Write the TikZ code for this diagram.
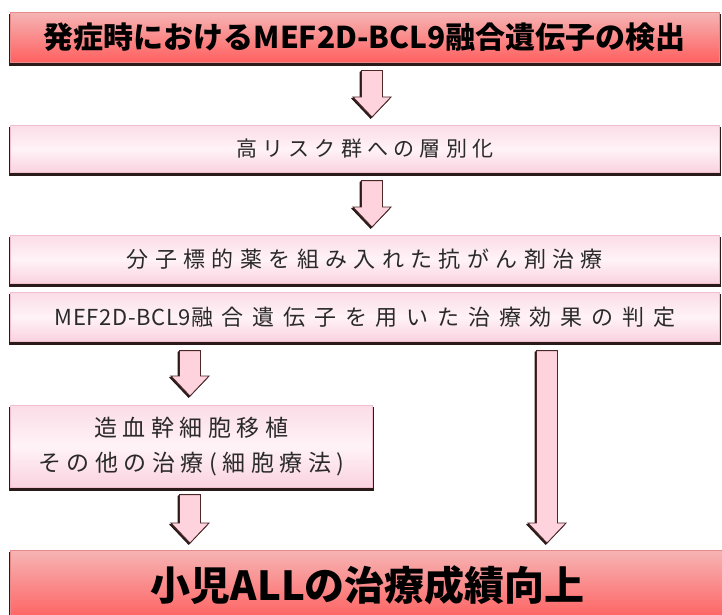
\documentclass[tikz,border=0pt]{standalone}
\usepackage{fontspec}
\setmainfont{Noto Sans CJK JP}
\usetikzlibrary{calc,shadows}
\definecolor{redtop}{HTML}{F6B4B4}
\definecolor{redbot}{HTML}{FF6060}
\definecolor{pinktop}{HTML}{FBDCE7}
\definecolor{pinkmid}{HTML}{FFF3F7}
\definecolor{pinkbot}{HTML}{FAD2E0}
\definecolor{shd}{HTML}{2B1A1A}
\definecolor{redline}{HTML}{E88A8A}
\definecolor{pinkline}{HTML}{F2BFCF}
\definecolor{arrfill}{HTML}{FFD3DE}
\definecolor{arrline}{HTML}{4A2626}
\definecolor{txt}{HTML}{2A2A2A}
\tikzset{
  boxshadow/.style={general shadow={fill=shd, draw=shd, line width=2.5pt, shadow yshift=-2.5pt}},
  redbox/.style={boxshadow, draw=redline, line width=0.6pt, top color=redtop, bottom color=redbot, anchor=north west, inner sep=0pt, text=black},
  pinkbox/.style={boxshadow, draw=pinkline, line width=0.6pt, top color=pinktop, bottom color=pinkbot, middle color=pinkmid, anchor=north west, inner sep=0pt, text=txt},
  arrshadow/.style={fill=shd, draw=shd, line width=1pt, line join=round, transform canvas={shift={(-1.3pt,-1.3pt)}}},
  arrbody/.style={fill=arrfill, draw=arrline, line width=0.8pt, line join=miter},
}
\newcommand{\blockarrow}[2]{%
  \draw[arrshadow] ($(#1)+(-10.5,0)$) -- ($(#2)+(-10.5,-20)$) -- ($(#2)+(-19,-20)$) -- (#2) -- ($(#2)+(19,-20)$) -- ($(#2)+(10.5,-20)$) -- ($(#1)+(10.5,0)$) -- cycle;
  \draw[arrbody] ($(#1)+(-10.5,0)$) -- ($(#2)+(-10.5,-20)$) -- ($(#2)+(-19,-20)$) -- (#2) -- ($(#2)+(19,-20)$) -- ($(#2)+(10.5,-20)$) -- ($(#1)+(10.5,0)$) -- cycle;
}
\begin{document}
\begin{tikzpicture}[x=1pt,y=-1pt]
\useasboundingbox (0,0) rectangle (722,615);
\fill[white] (0,0) rectangle (722,615);
\clip (0,0) rectangle (722,615);
\node[redbox, minimum width=709pt, minimum height=50pt, font=\bfseries\fontsize{30}{30}\selectfont] (b1) at (10,12) {発症時におけるMEF2D-BCL9融合遺伝子の検出};
\node[pinkbox, minimum width=709pt, minimum height=47pt, font=\fontsize{21}{21}\selectfont\addfontfeature{LetterSpace=25}] (b2) at (10,125) {高リスク群への層別化};
\node[pinkbox, minimum width=709pt, minimum height=48pt, font=\fontsize{22}{22}\selectfont\addfontfeature{LetterSpace=29}] (b3) at (10,235) {分子標的薬を組み入れた抗がん剤治療};
\node[pinkbox, minimum width=709pt, minimum height=49pt, font=\fontsize{22}{22}\selectfont] (b4) at (10,292) {{\addfontfeature{LetterSpace=3}MEF2D-BCL9}{\addfontfeature{LetterSpace=40}融合遺伝子を用いた治療効果の判定}};
\node[pinkbox, minimum width=362pt, minimum height=82pt, align=center, font=\fontsize{23}{35}\selectfont\addfontfeature{LetterSpace=24}] (b5) at (10,405) {造血幹細胞移植\\その他の治療(細胞療法)};
\node[redbox, minimum width=715pt, minimum height=70pt, font=\bfseries\fontsize{40}{40}\selectfont] (b6) at (10,550) {小児ALLの治療成績向上};
\coordinate (cA) at (372,0);
\coordinate (cB) at (190,0);
\coordinate (cC) at (547,0);
\coordinate (a1s) at ($(b1.south -| cA)+(0,8)$);
\coordinate (a1e) at ($(b2.north -| cA)+(0,-8)$);
\coordinate (a2s) at ($(b2.south -| cA)+(0,8)$);
\coordinate (a2e) at ($(b3.north -| cA)+(0,-8)$);
\coordinate (a3s) at ($(b4.south -| cB)+(0,9)$);
\coordinate (a3e) at ($(b5.north -| cB)+(0,-9)$);
\coordinate (a4s) at ($(b5.south -| cB)+(0,7)$);
\coordinate (a4e) at ($(b6.north -| cB)+(0,-7)$);
\coordinate (a5s) at ($(b4.south -| cC)+(0,9)$);
\coordinate (a5e) at ($(b6.north -| cC)+(0,-7)$);
\blockarrow{a1s}{a1e}
\blockarrow{a2s}{a2e}
\blockarrow{a3s}{a3e}
\blockarrow{a4s}{a4e}
\blockarrow{a5s}{a5e}
\end{tikzpicture}
\end{document}
